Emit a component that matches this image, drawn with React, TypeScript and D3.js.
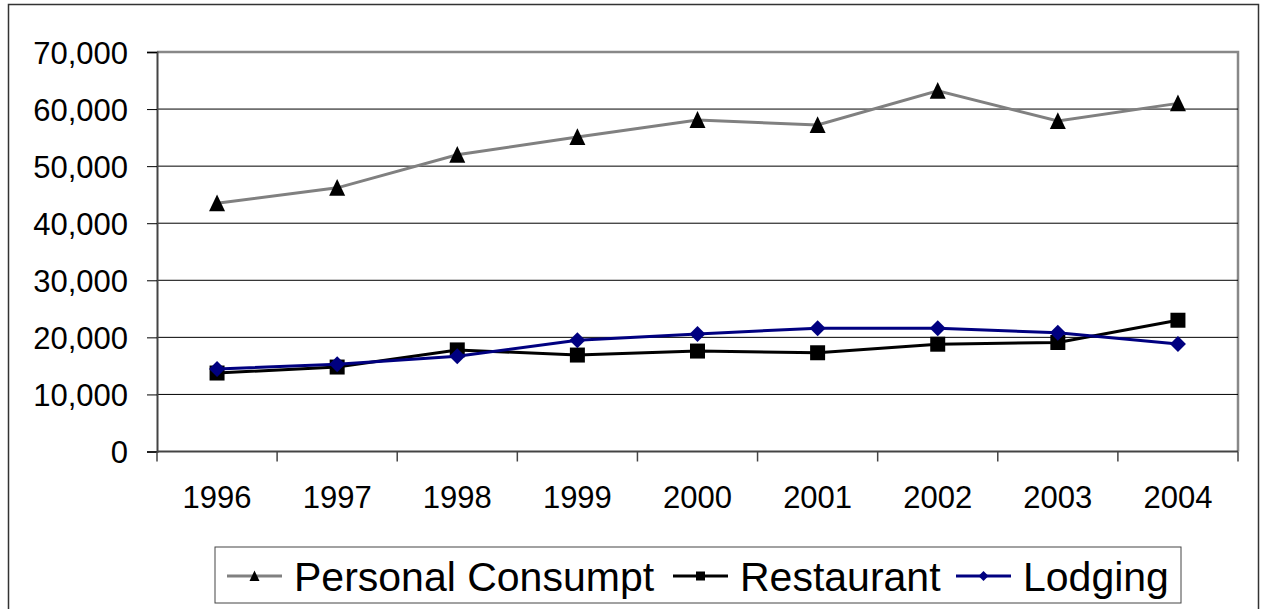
/**
 * Line chart of personal consumption, restaurant and lodging spending, 1996-2004.
 */
import React, {useEffect, useRef} from 'react';
import * as d3 from 'd3';

const years = ['1996', '1997', '1998', '1999', '2000', '2001', '2002', '2003', '2004'];
const personalConsumpt = [43500, 46200, 52000, 55100, 58100, 57200, 63200, 57900, 61000];
const restaurant = [13750, 14800, 17800, 16900, 17600, 17300, 18800, 19100, 23000];
const lodging = [14450, 15300, 16700, 19500, 20600, 21600, 21600, 20800, 18850];
const yTicks = [0, 10000, 20000, 30000, 40000, 50000, 60000, 70000];

const FONT = '"Liberation Sans", Arial, sans-serif';

type Marker = 'triangle' | 'square' | 'diamond';

interface Series {
  name: string;
  values: number[];
  color: string;
  marker: Marker;
}

const series: Series[] = [
  {name: 'Personal Consumpt', values: personalConsumpt, color: '#808080', marker: 'triangle'},
  {name: 'Restaurant', values: restaurant, color: '#000000', marker: 'square'},
  {name: 'Lodging', values: lodging, color: '#000080', marker: 'diamond'},
];

/** Excel-like marker path centred on 0,0; s = marker width. */
const markerPath = (m: Marker, s: number) => {
  const p = d3.path();
  const h = s / 2;
  if (m === 'triangle') {
    p.moveTo(0, -h * 1.1);
    p.lineTo(h, h);
    p.lineTo(-h, h);
  } else if (m === 'square') {
    p.rect(-h, -h, s, s);
  } else {
    p.moveTo(0, -h);
    p.lineTo(h, 0);
    p.lineTo(0, h);
    p.lineTo(-h, 0);
  }
  p.closePath();
  return p.toString();
};

const markerSize: Record<Marker, number> = {triangle: 16, square: 15, diamond: 16};
const legendMarkerSize: Record<Marker, number> = {triangle: 10, square: 9, diamond: 10};

export default function App() {
  const svgRef = useRef<SVGSVGElement>(null);

  useEffect(() => {
    if (!svgRef.current) return;
    const root = d3.select(svgRef.current);
    root.selectAll('*').remove();

    const plot = {left: 157, top: 52, right: 1238, bottom: 451.5};

    // chart area border
    root
      .append('rect')
      .attr('x', 8.5)
      .attr('y', 4.5)
      .attr('width', 1250)
      .attr('height', 640)
      .attr('fill', '#fff')
      .attr('stroke', '#333')
      .attr('stroke-width', 1.5);

    const x = d3.scaleBand().domain(years).range([plot.left, plot.right]);
    const y = d3.scaleLinear().domain([0, 70000]).range([plot.bottom, plot.top]);

    // plot frame (top/right gray)
    root
      .append('path')
      .attr('d', `M${plot.left},${plot.top}H${plot.right}V${plot.bottom}`)
      .attr('fill', 'none')
      .attr('stroke', '#888')
      .attr('stroke-width', 2.5);

    // grid lines
    root
      .append('g')
      .selectAll('line')
      .data(yTicks.filter((t) => t > 0 && t < 70000))
      .enter()
      .append('line')
      .attr('x1', plot.left)
      .attr('x2', plot.right)
      .attr('y1', (d) => y(d))
      .attr('y2', (d) => y(d))
      .attr('stroke', '#000')
      .attr('stroke-width', 1);

    // y axis
    const yAxis = root
      .append('g')
      .attr('transform', `translate(${plot.left},0)`)
      .call(
        d3
          .axisLeft(y)
          .tickValues(yTicks)
          .tickSize(10)
          .tickPadding(19)
          .tickFormat((d) => d3.format(',')(d as number)),
      );
    yAxis.select('.domain').attr('stroke', '#444').attr('stroke-width', 2);
    yAxis.selectAll('.tick line').attr('stroke', '#000').attr('stroke-width', 1);
    yAxis
      .selectAll('text')
      .attr('font-family', FONT)
      .attr('font-size', 31)
      .attr('fill', '#000')
      .attr('dy', '0.36em');

    // x axis with ticks between categories
    const xAxis = root.append('g').attr('transform', `translate(0,${plot.bottom})`);
    xAxis
      .append('line')
      .attr('x1', plot.left)
      .attr('x2', plot.right)
      .attr('stroke', '#444')
      .attr('stroke-width', 2);
    const bounds = years.map((d) => x(d) as number).concat([plot.right]);
    xAxis
      .selectAll('.xt')
      .data(bounds)
      .enter()
      .append('line')
      .attr('x1', (d) => d)
      .attr('x2', (d) => d)
      .attr('y1', 0)
      .attr('y2', 10)
      .attr('stroke', '#444')
      .attr('stroke-width', 1.5);
    xAxis
      .selectAll('text')
      .data(years)
      .enter()
      .append('text')
      .attr('x', (d) => (x(d) as number) + x.bandwidth() / 2)
      .attr('y', 56)
      .attr('text-anchor', 'middle')
      .attr('font-family', FONT)
      .attr('font-size', 31)
      .text((d) => d);

    // series lines and markers
    const cx = (i: number) => (x(years[i]) as number) + x.bandwidth() / 2;
    series.forEach((s) => {
      const line = d3
        .line<number>()
        .x((_, i) => cx(i))
        .y((d) => y(d));
      root
        .append('path')
        .datum(s.values)
        .attr('d', line)
        .attr('fill', 'none')
        .attr('stroke', s.color)
        .attr('stroke-width', 3);
      root
        .append('g')
        .selectAll('path')
        .data(s.values)
        .enter()
        .append('path')
        .attr('transform', (d, i) => `translate(${cx(i)},${y(d)})`)
        .attr('d', markerPath(s.marker, markerSize[s.marker]))
        .attr('fill', s.marker === 'diamond' ? s.color : '#000');
    });

    // legend
    const lg = root.append('g');
    lg.append('rect')
      .attr('x', 215)
      .attr('y', 547)
      .attr('width', 966)
      .attr('height', 56)
      .attr('fill', '#fff')
      .attr('stroke', '#444')
      .attr('stroke-width', 1);
    const legendX = [227, 673, 956];
    series.forEach((s, i) => {
      const lx = legendX[i];
      const ly = 576;
      lg.append('line')
        .attr('x1', lx)
        .attr('x2', lx + 55)
        .attr('y1', ly)
        .attr('y2', ly)
        .attr('stroke', s.color)
        .attr('stroke-width', 3);
      lg.append('path')
        .attr('transform', `translate(${lx + 27.5},${ly})`)
        .attr('d', markerPath(s.marker, legendMarkerSize[s.marker]))
        .attr('fill', s.marker === 'diamond' ? s.color : '#000');
      lg.append('text')
        .attr('x', lx + 67)
        .attr('y', ly)
        .attr('dy', '0.36em')
        .attr('font-family', FONT)
        .attr('font-size', 41)
        .text(s.name);
    });
  }, []);

  return (
    <svg
      ref={svgRef}
      width={1263}
      height={609}
      style={{position: 'absolute', left: 0, top: 0, background: '#fff'}}
    />
  );
}
